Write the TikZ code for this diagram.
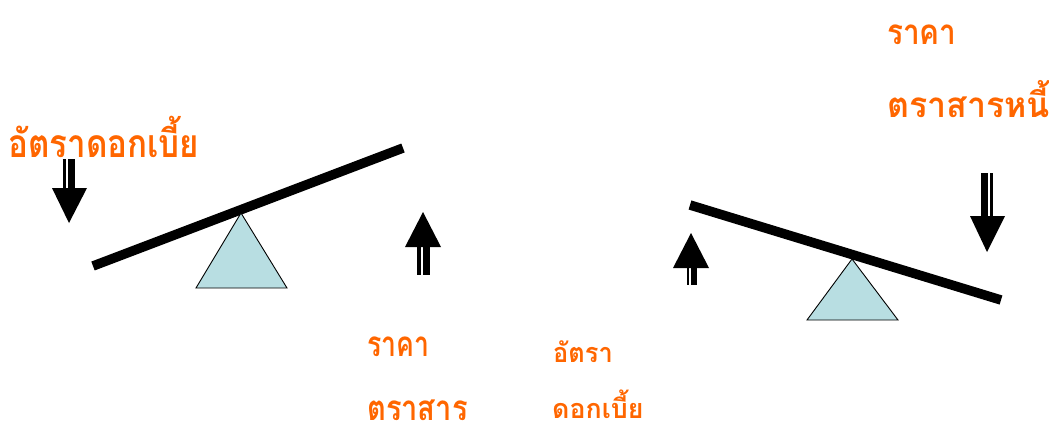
\documentclass[tikz,border=0pt]{standalone}
\usepackage{graphicx}
\usepackage{fontspec}
\newfontfamily\thaifont[Script=Thai]{Loma}
\definecolor{lbl}{RGB}{255,102,0}
\definecolor{pivot}{RGB}{184,222,226}
% horizontally condensed label text
\newcommand\narrow[2]{\scalebox{#1}[1]{#2}}
\tikzset{
  beam/.style={line width=9.5pt},
  fulcrum/.style={fill=pivot,draw=black,line width=0.9pt,line join=miter},
  lbl/.style={text=lbl,inner sep=0pt,anchor=base west},
  big/.style={lbl,font=\thaifont\bfseries\fontsize{39}{39}\selectfont},
  mid/.style={lbl,font=\thaifont\bfseries\fontsize{35}{35}\selectfont},
  small/.style={lbl,font=\thaifont\bfseries\fontsize{27}{27}\selectfont},
  arr/.style={fill=black,draw=none}
}
\begin{document}
\begin{tikzpicture}[x=1pt,y=-1pt]
\useasboundingbox (0,0) rectangle (1049,424);

% left see-saw
\draw[beam] (93,266) -- (403,148);
\draw[fulcrum] (241,213) -- (287,288) -- (196,288) -- cycle;

% right see-saw
\draw[beam] (690,205) -- (1001,300);
\draw[fulcrum] (852,259) -- (898,320) -- (807,320) -- cycle;

% striped block arrows
% down, top left
\fill[arr] (63,159) rectangle (66,189);
\fill[arr] (68,159) rectangle (75,189);
\fill[arr] (52,188) -- (87,188) -- (69,223) -- cycle;
% up, middle left
\fill[arr] (417,246) rectangle (421,275);
\fill[arr] (423,246) rectangle (430,275);
\fill[arr] (405,247) -- (441,247) -- (423,212) -- cycle;
% up, middle right
\fill[arr] (686.5,267) rectangle (689,285);
\fill[arr] (691,267) rectangle (696.5,285);
\fill[arr] (673,268) -- (709,268) -- (691,233) -- cycle;
% down, right
\fill[arr] (981,173) rectangle (988,217);
\fill[arr] (990,173) rectangle (993,217);
\fill[arr] (970,216) -- (1005,216) -- (987,252) -- cycle;

% labels
\node[big] (rate) at (8,157) {\narrow{0.85}{อัตราดอกเบี้ย}};
\node[mid] (price1) at (887,44) {\narrow{0.85}{ราคา}};
\node[mid] (bond1) at (887,117) {\narrow{0.97}{ตราสารหนี้}};
\node[mid] (price2) at (367,356) {\narrow{0.76}{ราคา}};
\node[mid] (bond2) at (367,420) {\narrow{0.83}{ตราสาร}};
\node[small] (rate2a) at (553,362) {\narrow{0.94}{อัตรา}};
\node[small] (rate2b) at (552,418) {\narrow{0.99}{ดอกเบี้ย}};
\end{tikzpicture}
\end{document}
